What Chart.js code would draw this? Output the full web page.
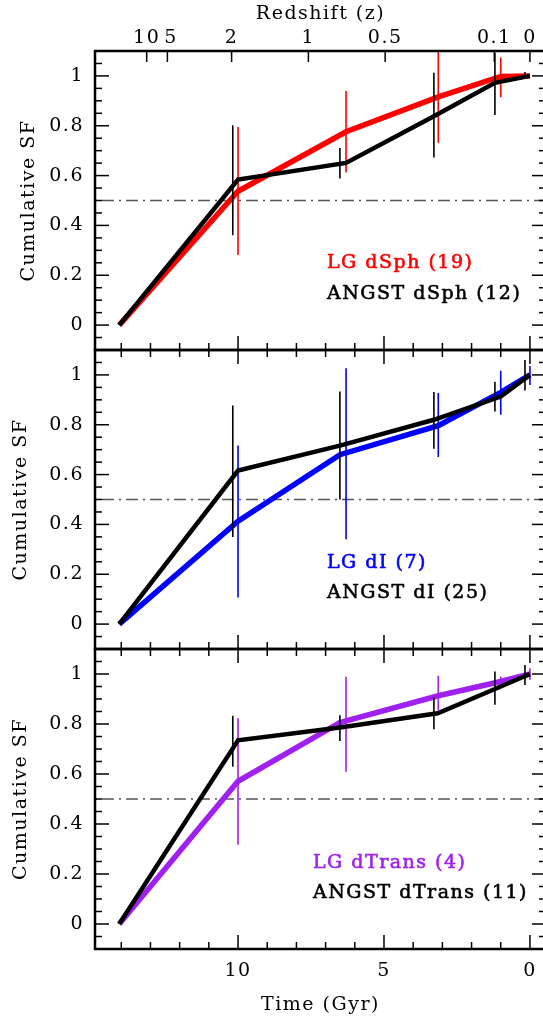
<!DOCTYPE html>
<html lang="en">
<head>
<meta charset="UTF-8">
<title>Cumulative SF</title>
<script src="https://cdn.jsdelivr.net/npm/chart.js"></script>
<style>
  html, body { margin: 0; padding: 0; background: #fff; overflow: hidden; }
  body { width: 543px; height: 1023px; position: relative; }
  .painel { position: absolute; left: 0; }
</style>
</head>
<body>
<canvas id="painel1" class="painel" width="548" height="356" style="top:0px"></canvas>
<canvas id="painel2" class="painel" width="548" height="312" style="top:344px"></canvas>
<canvas id="painel3" class="painel" width="548" height="380" style="top:643px"></canvas>
<script>
  // eixo de cima: redshift, posicionado pelo tempo (Gyr) correspondente
  const zLabels = ['10', ' 5', '2', '1', '0.5', '0.1', '0'];
  const zTimes = [13.13, 12.42, 10.22, 7.59, 4.96, 1.22, 0];
  const yTicks = [0, 0.2, 0.4, 0.6, 0.8, 1];
  const yTickLabels = ['0', '0.2', '0.4', '0.6', '0.8', '1'];
  const xTicks = [0, 5, 10];
  const xTickLabels = ['0', '5', '10'];
  const halfLevel = [0.5, 0.5];
  const halfLevelTime = [-0.55, 14.9];

  // painel 1 - dSph
  const dsphLgTime = [14.07, 10.0, 6.30, 3.14, 1.0, 0];
  const dsphLgSF = [0, 0.537, 0.776, 0.916, 0.998, 1.0];
  const dsphLgErrTime = [10.0, 6.30, 3.14, 1.0];
  const dsphLgErrLo = [0.281, 0.612, 0.732, 0.914];
  const dsphLgErrHi = [0.795, 0.939, 1.12, 1.074];
  const dsphAnTime = [14.07, 10.0, 6.30, 3.29, 1.20, 0];
  const dsphAnSF = [0, 0.584, 0.651, 0.838, 0.972, 1.0];
  const dsphAnErrTime = [10.18, 6.51, 3.29, 1.20, 0.17];
  const dsphAnErrLo = [0.361, 0.588, 0.673, 0.843, 0.996];
  const dsphAnErrHi = [0.802, 0.711, 1.013, 1.093, 1.016];

  // painel 2 - dI
  const diLgTime = [14.07, 10.0, 6.51, 3.14, 1.0, 0];
  const diLgSF = [0, 0.413, 0.68, 0.796, 0.93, 1.0];
  const diLgErrTime = [10.0, 6.30, 3.14, 1.0, 0];
  const diLgErrLo = [0.107, 0.34, 0.671, 0.84, 0.96];
  const diLgErrHi = [0.717, 1.027, 0.927, 1.017, 1.036];
  const diAnTime = [14.07, 10.0, 6.51, 3.29, 1.0, 0];
  const diAnSF = [0, 0.616, 0.716, 0.82, 0.913, 1.0];
  const diAnErrTime = [10.18, 6.51, 3.29, 1.20, 0.17];
  const diAnErrLo = [0.349, 0.5, 0.704, 0.853, 0.937];
  const diAnErrHi = [0.877, 0.933, 0.931, 0.973, 1.06];

  // painel 3 - dTrans
  const dtLgTime = [14.07, 10.0, 6.51, 3.14, 1.0, 0];
  const dtLgSF = [0, 0.571, 0.806, 0.913, 0.97, 1.0];
  const dtLgErrTime = [10.0, 6.30, 3.14, 1.0, 0];
  const dtLgErrLo = [0.317, 0.609, 0.853, 0.95, 0.977];
  const dtLgErrHi = [0.823, 0.989, 0.993, 0.99, 1.023];
  const dtAnTime = [14.07, 10.0, 6.51, 3.16, 1.20, 0];
  const dtAnSF = [0, 0.735, 0.786, 0.843, 0.94, 1.0];
  const dtAnErrTime = [10.18, 6.51, 3.29, 1.20, 0.17];
  const dtAnErrLo = [0.629, 0.732, 0.779, 0.877, 0.956];
  const dtAnErrHi = [0.833, 0.835, 0.906, 1.01, 1.036];

  const fonte = 'DejaVu Serif';

  function pontos(xs, ys) {
    return xs.map((t, i) => ({ x: t, y: ys[i] }));
  }

  // cada barra de erro: (x,lo) -> (x,hi) e um null pra quebrar a linha
  function barrasErro(xs, lo, hi) {
    const d = [];
    for (let i = 0; i < xs.length; i++) {
      d.push({ x: xs[i], y: lo[i] }, { x: xs[i], y: hi[i] }, { x: xs[i], y: null });
    }
    return d;
  }

  // sem folga extra pros rotulos, a area do grafico fica onde eu quero
  function semFolga(s) {
    s.paddingTop = 0; s.paddingBottom = 0; s.paddingLeft = 0; s.paddingRight = 0;
  }

  const molduraPlugin = {
    id: 'moldura',
    beforeDraw(chart) {
      chart.ctx.letterSpacing = '1.5px';
    },
    afterDraw(chart, args, opts) {
      const ctx = chart.ctx;
      const a = chart.chartArea;
      const sx = chart.scales.x;
      const sy = chart.scales.y;
      function traco(x1, y1, x2, y2) {
        ctx.beginPath(); ctx.moveTo(x1, y1); ctx.lineTo(x2, y2); ctx.stroke();
      }
      ctx.save();
      ctx.strokeStyle = '#000';
      ctx.lineWidth = 1.5;
      for (let i = -1; i <= 21; i++) {
        const py = sy.getPixelForValue(i * 0.05);
        const len = (i % 4 === 0 && i >= 0 && i <= 20) ? 14 : 7;
        traco(a.left, py, a.left + len, py);
        traco(a.right, py, a.right - len, py);
      }
      for (let t = 0; t <= 14; t++) {
        const px = sx.getPixelForValue(t);
        const len = t % 5 === 0 ? 14 : 7;
        traco(px, a.bottom, px, a.bottom - len);
        if (!opts.zTopo) traco(px, a.top, px, a.top + len);
      }
      if (opts.zTopo) {
        for (let i = 0; i < zTimes.length; i++) {
          const px = sx.getPixelForValue(zTimes[i]);
          traco(px, a.top, px, a.top + 11);
        }
      }
      ctx.lineWidth = 2.5;
      ctx.beginPath();
      ctx.moveTo(a.right, a.top);
      ctx.lineTo(a.left, a.top);
      ctx.lineTo(a.left, a.bottom);
      ctx.lineTo(a.right, a.bottom);
      ctx.stroke();

      // legenda com um contorno fino pra ficar mais encorpada
      ctx.font = '19px "' + fonte + '"';
      ctx.textAlign = 'left';
      ctx.textBaseline = 'middle';
      ctx.lineWidth = 0.6;
      opts.legenda.forEach(function (l) {
        ctx.fillStyle = l.cor;
        ctx.strokeStyle = l.cor;
        ctx.fillText(l.texto, l.x, l.y);
        ctx.strokeText(l.texto, l.x, l.y);
      });
      ctx.restore();
    }
  };

  function criarPainel(id, p) {
    const escalas = {
      x: {
        type: 'linear', reverse: true, min: -0.55, max: 14.9, position: 'bottom',
        afterBuildTicks: s => { s.ticks = xTicks.map(v => ({ value: v })); },
        ticks: {
          display: p.base, color: '#000', padding: 11, maxRotation: 0, autoSkip: false,
          font: { family: fonte, size: 19 },
          callback: (v, i) => xTickLabels[i]
        },
        grid: { drawOnChartArea: false, drawTicks: false },
        border: { display: false },
        title: {
          display: p.base, text: 'Time (Gyr)', color: '#000',
          font: { family: fonte, size: 19 }, padding: { top: 0, bottom: 7 }
        },
        afterFit: s => { s.height = p.alturaBase; semFolga(s); }
      },
      y: {
        min: -0.1, max: 1.1, position: 'left',
        afterBuildTicks: s => { s.ticks = yTicks.map(v => ({ value: v })); },
        ticks: {
          color: '#000', padding: 11, font: { family: fonte, size: 19 },
          callback: (v, i) => yTickLabels[i]
        },
        grid: { drawOnChartArea: false, drawTicks: false },
        border: { display: false },
        title: {
          display: true, text: 'Cumulative SF', color: '#000',
          font: { family: fonte, size: 19 }, padding: { top: p.tituloY, bottom: 0 }
        },
        afterFit: s => { s.width = 95; semFolga(s); }
      }
    };
    if (p.zTopo) {
      escalas.xz = {
        type: 'linear', reverse: true, min: -0.55, max: 14.9, position: 'top',
        afterBuildTicks: s => { s.ticks = zTimes.map(v => ({ value: v })); },
        ticks: {
          color: '#000', padding: 2, maxRotation: 0, autoSkip: false,
          font: { family: fonte, size: 19 },
          callback: (v, i) => zLabels[i]
        },
        grid: { drawOnChartArea: false, drawTicks: false },
        border: { display: false },
        title: {
          display: true, text: 'Redshift (z)', color: '#000',
          font: { family: fonte, size: 19 }, padding: { top: 3, bottom: 0 }
        },
        afterFit: s => { s.height = 51; semFolga(s); }
      };
    }

    return new Chart(document.getElementById(id), {
      type: 'line',
      data: {
        datasets: [
          {
            data: barrasErro(p.anErrTime, p.anErrLo, p.anErrHi),
            borderColor: '#000', borderWidth: 1.6, pointRadius: 0, spanGaps: false, xAxisID: 'x'
          },
          {
            data: pontos(p.anTime, p.anSF),
            borderColor: '#000', borderWidth: 4.5, pointRadius: 0, xAxisID: 'x'
          },
          {
            data: barrasErro(p.lgErrTime, p.lgErrLo, p.lgErrHi),
            borderColor: p.cor, borderWidth: 1.6, pointRadius: 0, spanGaps: false, xAxisID: 'x'
          },
          {
            data: pontos(p.lgTime, p.lgSF),
            borderColor: p.cor, borderWidth: 5.5, pointRadius: 0, xAxisID: 'x'
          },
          {
            data: pontos(halfLevelTime, halfLevel),
            borderColor: '#555', borderWidth: 1.4, borderDash: [12, 5, 2, 5], pointRadius: 0, xAxisID: 'x'
          }
        ]
      },
      options: {
        responsive: false,
        animation: false,
        devicePixelRatio: 1,
        events: [],
        layout: { padding: p.padding },
        scales: escalas,
        plugins: {
          legend: { display: false },
          tooltip: { enabled: false },
          moldura: { zTopo: p.zTopo, legenda: p.legenda }
        }
      },
      plugins: [molduraPlugin]
    });
  }

  criarPainel('painel1', {
    zTopo: true, base: false, alturaBase: 0, tituloY: 18,
    padding: { top: 0, bottom: 6, left: 0, right: 2 },
    cor: '#ff0000',
    lgTime: dsphLgTime, lgSF: dsphLgSF, lgErrTime: dsphLgErrTime, lgErrLo: dsphLgErrLo, lgErrHi: dsphLgErrHi,
    anTime: dsphAnTime, anSF: dsphAnSF, anErrTime: dsphAnErrTime, anErrLo: dsphAnErrLo, anErrHi: dsphAnErrHi,
    legenda: [
      { texto: 'LG dSph (19)', cor: '#ff0000', x: 327, y: 263 },
      { texto: 'ANGST dSph (12)', cor: '#000', x: 327, y: 294 }
    ]
  });

  criarPainel('painel2', {
    zTopo: false, base: false, alturaBase: 0, tituloY: 10,
    padding: { top: 6, bottom: 7, left: 0, right: 2 },
    cor: '#0000ff',
    lgTime: diLgTime, lgSF: diLgSF, lgErrTime: diLgErrTime, lgErrLo: diLgErrLo, lgErrHi: diLgErrHi,
    anTime: diAnTime, anSF: diAnSF, anErrTime: diAnErrTime, anErrLo: diAnErrLo, anErrHi: diAnErrHi,
    legenda: [
      { texto: 'LG dI (7)', cor: '#0000ff', x: 327, y: 219 },
      { texto: 'ANGST dI (25)', cor: '#000', x: 327, y: 249 }
    ]
  });

  criarPainel('painel3', {
    zTopo: false, base: true, alturaBase: 74, tituloY: 10,
    padding: { top: 6, bottom: 0, left: 0, right: 2 },
    cor: '#a020f0',
    lgTime: dtLgTime, lgSF: dtLgSF, lgErrTime: dtLgErrTime, lgErrLo: dtLgErrLo, lgErrHi: dtLgErrHi,
    anTime: dtAnTime, anSF: dtAnSF, anErrTime: dtAnErrTime, anErrLo: dtAnErrLo, anErrHi: dtAnErrHi,
    legenda: [
      { texto: 'LG dTrans (4)', cor: '#a020f0', x: 313, y: 220 },
      { texto: 'ANGST dTrans (11)', cor: '#000', x: 313, y: 250 }
    ]
  });
</script>
</body>
</html>
